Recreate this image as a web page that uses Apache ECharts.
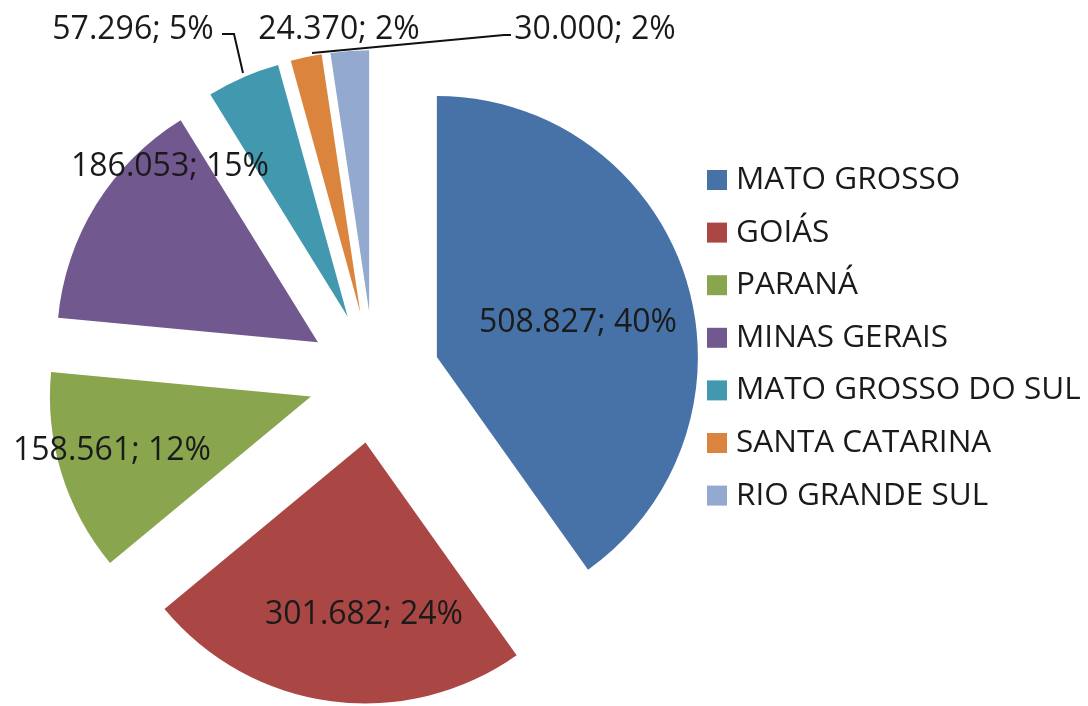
<!DOCTYPE html>
<html>
<head>
<meta charset="utf-8">
<script src="https://cdn.jsdelivr.net/npm/echarts@6/dist/echarts.min.js"></script>
<style>
html,body{margin:0;padding:0;background:#fff;}
#chart{width:1088px;height:706px;}
</style>
</head>
<body>
<div id="chart"></div>
<script>
const categories = ['MATO GROSSO', 'GOIÁS', 'PARANÁ', 'MINAS GERAIS', 'MATO GROSSO DO SUL', 'SANTA CATARINA', 'RIO GRANDE SUL'];
const values = [508827, 301682, 158561, 186053, 57296, 24370, 30000];
const colors = ['#4672A8', '#AA4744', '#89A54E', '#71588F', '#4198AF', '#DB843D', '#93A9CF'];

// text placement of the data labels (centres) and leader-line routes
const labelPos = [[578, 323], [364, 615], [112, 451], [170, 167], [133, 30], [339, 30], [595, 30]];
const leaderLines = {4: [[243, 73], [234, 34], [222, 34]], 6: [[312, 53], [504, 35], [511, 35]]};
const outsideIdx = [4, 5, 6];
const OFFSET = 66;

function fmt(v) { return String(v).replace(/\B(?=(\d{3})+(?!\d))/g, '.'); }
const total = values.reduce((a, b) => a + b, 0);
const midAng = [];
{ let acc = 0; values.forEach(v => { midAng.push((acc + v / 2) / total * 2 * Math.PI); acc += v; }); }
function selOffset(i) { return [OFFSET * Math.sin(midAng[i]), -OFFSET * Math.cos(midAng[i])]; }

const chart = echarts.init(document.getElementById('chart'), null, {renderer: 'canvas'});
const FONT = '"Open Sans", "Liberation Sans", sans-serif';

const data = categories.map((c, i) => {
  const outside = outsideIdx.indexOf(i) >= 0;
  return {
    name: c,
    value: values[i],
    selected: true,
    itemStyle: {color: colors[i]},
    label: {position: outside ? 'outside' : 'inside'},
    labelLine: {show: !!leaderLines[i]}
  };
});

chart.setOption({
  animation: false,
  backgroundColor: '#ffffff',
  legend: {
    orient: 'vertical',
    left: 702,
    top: 159,
    itemWidth: 20,
    itemHeight: 20,
    itemGap: 20.6,
    icon: 'rect',
    selectedMode: false,
    data: categories,
    textStyle: {fontFamily: FONT, fontSize: 31.5, color: '#1a1a1a', padding: [0, 0, 0, 4]}
  },
  series: [{
    type: 'pie',
    center: [374, 377],
    radius: [0, 261],
    startAngle: 90,
    clockwise: true,
    selectedMode: 'multiple',
    selectedOffset: OFFSET,
    avoidLabelOverlap: false,
    percentPrecision: 0,
    emphasis: {disabled: true},
    itemStyle: {borderWidth: 0},
    label: {
      show: true,
      fontFamily: FONT,
      fontSize: 32,
      color: '#1a1a1a',
      formatter: p => fmt(p.value) + '; ' + p.percent + '%'
    },
    labelLine: {show: true, length: 10, length2: 6, lineStyle: {color: '#111111', width: 2}},
    labelLayout: function (params) {
      const i = params.dataIndex;
      const r = params.labelRect;
      const pos = labelPos[i];
      const o = selOffset(i);
      const res = {
        dx: pos[0] - (r.x + r.width / 2) - o[0],
        dy: pos[1] - (r.y + r.height / 2) - o[1]
      };
      if (leaderLines[i]) {
        res.labelLinePoints = leaderLines[i].map(p => [p[0] - o[0], p[1] - o[1]]);
      }
      return res;
    },
    data: data
  }]
});
</script>
</body>
</html>
